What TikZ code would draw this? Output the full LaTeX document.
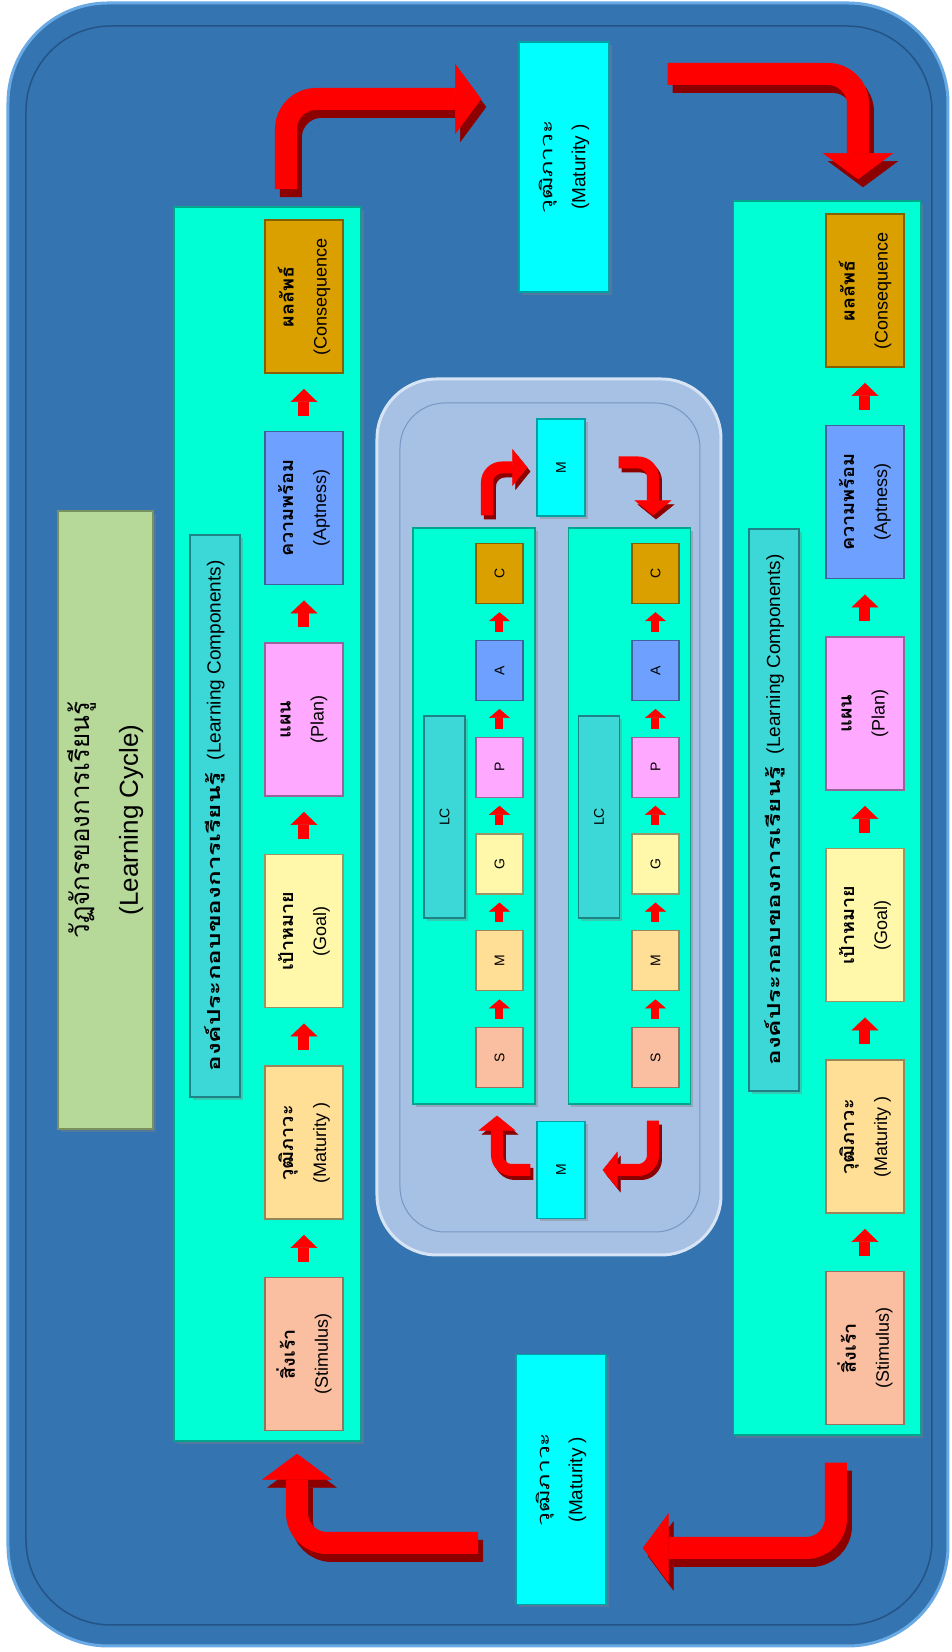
\documentclass[tikz,border=0pt]{standalone}
\usepackage{fontspec}
\setmainfont{Liberation Sans}
\newfontfamily\thaifont[Script=Thai]{Loma}
\newfontfamily\thaiwide[Script=Thai, FakeStretch=1.45]{Loma}
\newfontfamily\thaicomp[Script=Thai, FakeStretch=1.1]{Loma}
\usetikzlibrary{shapes,shadows,arrows.meta,positioning,calc}

\definecolor{bgblue}{RGB}{52,116,177}
\definecolor{rimblue}{RGB}{105,170,228}
\definecolor{lineblue}{RGB}{36,84,135}
\definecolor{paleblue}{RGB}{166,193,228}
\definecolor{palerim}{RGB}{214,228,245}
\definecolor{paleline}{RGB}{120,150,195}
\definecolor{panelgreen}{RGB}{0,255,212}
\definecolor{paneldark}{RGB}{0,165,140}
\definecolor{labelteal}{RGB}{60,215,215}
\definecolor{labeldark}{RGB}{30,130,135}
\definecolor{titlegreen}{RGB}{182,216,152}
\definecolor{titleline}{RGB}{120,145,95}
\definecolor{matcyan}{RGB}{0,255,255}
\definecolor{matdark}{RGB}{0,160,165}
\definecolor{cStim}{RGB}{250,190,160}
\definecolor{cMat}{RGB}{255,222,150}
\definecolor{cGoal}{RGB}{255,248,170}
\definecolor{cPlan}{RGB}{255,168,255}
\definecolor{cApt}{RGB}{110,160,255}
\definecolor{cCons}{RGB}{218,160,0}
\definecolor{arrowred}{RGB}{255,0,0}
\definecolor{arrowdark}{RGB}{140,0,0}

\tikzstyle{outerframe} = [rectangle, rounded corners=100pt, fill=bgblue, draw=rimblue, line width=3pt, minimum width=1643pt, minimum height=940pt]
\tikzstyle{innerframe} = [rectangle, rounded corners=85pt, fill=bgblue, draw=lineblue, line width=1.5pt, minimum width=1599pt, minimum height=906pt]
\tikzstyle{hubframe} = [rectangle, rounded corners=60pt, fill=paleblue, draw=palerim, line width=3pt, minimum width=876pt, minimum height=344pt]
\tikzstyle{hubinner} = [rectangle, rounded corners=45pt, fill=paleblue, draw=paleline, line width=1pt, minimum width=829pt, minimum height=300pt]
\tikzstyle{titlebox} = [rectangle, draw=titleline, line width=2pt, fill=titlegreen, minimum width=618pt, minimum height=95pt, align=center, font=\fontsize{26}{48}\selectfont, drop shadow={opacity=0.4}]
\tikzstyle{panel} = [rectangle, draw=paneldark, line width=1.5pt, fill=panelgreen, minimum width=1234pt, minimum height=187pt, drop shadow={opacity=0.4}]
\tikzstyle{labelbox} = [rectangle, draw=labeldark, line width=2pt, fill=labelteal, minimum width=562pt, minimum height=50pt, font=\fontsize{19}{20}\selectfont, drop shadow={opacity=0.4}]
\tikzstyle{matbox} = [rectangle, draw=matdark, line width=1.5pt, fill=matcyan, minimum width=250pt, minimum height=90pt, align=center, font=\fontsize{19}{33}\selectfont, drop shadow={opacity=0.4}]
\tikzstyle{minipanel} = [rectangle, draw=paneldark, line width=1.2pt, fill=panelgreen, minimum width=576pt, minimum height=122pt, drop shadow={opacity=0.4}]
\tikzstyle{minilabel} = [rectangle, draw=labeldark, line width=1.5pt, fill=labelteal, minimum width=202pt, minimum height=41pt, font=\fontsize{14}{16}\selectfont, drop shadow={opacity=0.4}]
\tikzstyle{mbox} = [rectangle, draw=matdark, line width=1.2pt, fill=matcyan, minimum width=97pt, minimum height=48pt, font=\fontsize{14}{16}\selectfont, drop shadow={opacity=0.4}]
\tikzset{
	comp/.style={rectangle, draw=#1!60!black, line width=1.5pt, fill=#1, minimum width=153pt, minimum height=78pt, inner sep=0pt, align=center, font=\fontsize{18}{33}\selectfont, node distance=211.5pt},
	minicomp/.style={rectangle, draw=#1!60!black, line width=1.2pt, fill=#1, minimum width=60pt, minimum height=47pt, inner sep=0pt, font=\fontsize{14}{16}\selectfont, node distance=96.8pt},
	bigarrow/.style={draw=arrowred, line width=22pt, rounded corners=30pt, -{Triangle[width=70pt,length=26pt,line width=0.5pt]}},
	bigshade/.style={bigarrow, draw=arrowdark, transform canvas={xshift=5pt, yshift=-8pt}},
	smallbent/.style={draw=arrowred, line width=12pt, rounded corners=15pt, -{Triangle[width=37pt,length=15pt,line width=0.5pt]}},
	smallshade/.style={smallbent, draw=arrowdark, transform canvas={xshift=3pt, yshift=-4pt}},
	steparrow/.style={draw=arrowred, line width=11pt, -{Triangle[width=27pt,length=13pt,line width=0.5pt]}, shorten <=15pt, shorten >=15pt},
	ministep/.style={draw=arrowred, line width=8pt, -{Triangle[width=21pt,length=9pt,line width=0.5pt]}, shorten <=8pt, shorten >=8pt}
}

\begin{document}
\begin{tikzpicture}[x=1pt, y=1pt, rotate=90, every node/.append style={transform shape}]
	\useasboundingbox (0,0) rectangle (1652,952);
	
	\node [outerframe] (frame) at (827.5,474) {};
	\node [innerframe] (inner) at (826.5,473) {};
	
	\node [titlebox] (title) at (832,846.5) {{\thaifont วัฏจักรของการเรียนรู้}\\(Learning Cycle)};
	
	% the two rows of learning components
	\node [panel] (lcTop) at (828,684.5) {};
	\node [panel] (lcBot) at (834,125) {};
	
	\node [labelbox, above of=lcTop, node distance=52.5pt, xshift=8pt] (lbTop) {{\thaiwide\bfseries\fontsize{18}{20}\selectfont องค์ประกอบของการเรียนรู้}\hspace{12pt}(Learning Components)};
	\node [labelbox, above of=lcBot, node distance=52.5pt, xshift=8pt] (lbBot) {{\thaiwide\bfseries\fontsize{18}{20}\selectfont องค์ประกอบของการเรียนรู้}\hspace{12pt}(Learning Components)};
	
	\node [comp=cStim] (s1) at ([xshift=87.5pt, yshift=-36.5pt]lcTop.west) {{\thaicomp\bfseries สิ่งเร้า}\\(Stimulus)};
	\node [comp=cMat, right of=s1] (m1) {{\thaicomp\bfseries วุฒิภาวะ}\\(Maturity )};
	\node [comp=cGoal, right of=m1] (g1) {{\thaicomp\bfseries เป้าหมาย}\\(Goal)};
	\node [comp=cPlan, right of=g1] (p1) {{\thaicomp\bfseries แผน}\\(Plan)};
	\node [comp=cApt, right of=p1] (a1) {{\thaicomp\bfseries ความพร้อม}\\(Aptness)};
	\node [comp=cCons, right of=a1] (c1) {{\thaicomp\bfseries ผลลัพธ์}\\(Consequence};
	
	\node [comp=cStim] (s2) at ([xshift=87.5pt, yshift=-38pt]lcBot.west) {{\thaicomp\bfseries สิ่งเร้า}\\(Stimulus)};
	\node [comp=cMat, right of=s2] (m2) {{\thaicomp\bfseries วุฒิภาวะ}\\(Maturity )};
	\node [comp=cGoal, right of=m2] (g2) {{\thaicomp\bfseries เป้าหมาย}\\(Goal)};
	\node [comp=cPlan, right of=g2] (p2) {{\thaicomp\bfseries แผน}\\(Plan)};
	\node [comp=cApt, right of=p2] (a2) {{\thaicomp\bfseries ความพร้อม}\\(Aptness)};
	\node [comp=cCons, right of=a2] (c2) {{\thaicomp\bfseries ผลลัพธ์}\\(Consequence};
	
	\draw [steparrow] (s1) -- (m1);
	\draw [steparrow] (m1) -- (g1);
	\draw [steparrow] (g1) -- (p1);
	\draw [steparrow] (p1) -- (a1);
	\draw [steparrow] (a1) -- (c1);
	
	\draw [steparrow] (s2) -- (m2);
	\draw [steparrow] (m2) -- (g2);
	\draw [steparrow] (g2) -- (p2);
	\draw [steparrow] (p2) -- (a2);
	\draw [steparrow] (a2) -- (c2);
	
	% maturity between the rows
	\node [matbox] (matTop) at (1485,388) {{\thaiwide\fontsize{17}{33}\selectfont วุฒิภาวะ}\\(Maturity )};
	\node [matbox] (matBot) at (172.5,391) {{\thaiwide\fontsize{17}{33}\selectfont วุฒิภาวะ}\\(Maturity )};
	
	\draw [bigshade, shorten <=17pt, shorten >=37pt] ([yshift=-18.5pt]lcTop.east) -| ([xshift=68pt]matTop.north);
	\draw [bigarrow, shorten <=17pt, shorten >=37pt] ([yshift=-18.5pt]lcTop.east) -| ([xshift=68pt]matTop.north);
	\draw [bigshade, shorten <=58pt, shorten >=21pt] ([xshift=93pt]matTop.south) |- ([yshift=-31pt]lcBot.east);
	\draw [bigarrow, shorten <=58pt, shorten >=21pt] ([xshift=93pt]matTop.south) |- ([yshift=-31pt]lcBot.east);
	\draw [bigshade, shorten <=27pt, shorten >=36pt] ([yshift=-9pt]lcBot.west) -| ([xshift=-68.5pt]matBot.south);
	\draw [bigarrow, shorten <=27pt, shorten >=36pt] ([yshift=-9pt]lcBot.west) -| ([xshift=-68.5pt]matBot.south);
	\draw [bigshade, shorten <=37pt, shorten >=12pt] ([xshift=-63.5pt]matBot.north) |- ([yshift=-29.5pt]lcTop.west);
	\draw [bigarrow, shorten <=37pt, shorten >=12pt] ([xshift=-63.5pt]matBot.north) |- ([yshift=-29.5pt]lcTop.west);
	
	% small cycle in the middle
	\node [hubframe] (hub) at (835,403) {};
	\node [hubinner] (hubIn) at (834.5,402) {};
	
	\node [minipanel] (mpTop) at (836,478) {};
	\node [minipanel] (mpBot) at (836,322.5) {};
	
	\node [minilabel, above of=mpTop, node distance=29.5pt, xshift=-1pt] (mlTop) {LC};
	\node [minilabel, above of=mpBot, node distance=30.5pt, xshift=-1pt] (mlBot) {LC};
	
	\node [minicomp=cStim] (ms1) at ([xshift=47pt, yshift=-25.5pt]mpTop.west) {S};
	\node [minicomp=cMat, right of=ms1] (mm1) {M};
	\node [minicomp=cGoal, right of=mm1] (mg1) {G};
	\node [minicomp=cPlan, right of=mg1] (mp1) {P};
	\node [minicomp=cApt, right of=mp1] (ma1) {A};
	\node [minicomp=cCons, right of=ma1] (mc1) {C};
	
	\node [minicomp=cStim] (ms2) at ([xshift=47pt, yshift=-26pt]mpBot.west) {S};
	\node [minicomp=cMat, right of=ms2] (mm2) {M};
	\node [minicomp=cGoal, right of=mm2] (mg2) {G};
	\node [minicomp=cPlan, right of=mg2] (mp2) {P};
	\node [minicomp=cApt, right of=mp2] (ma2) {A};
	\node [minicomp=cCons, right of=ma2] (mc2) {C};
	
	\draw [ministep] (ms1) -- (mm1);
	\draw [ministep] (mm1) -- (mg1);
	\draw [ministep] (mg1) -- (mp1);
	\draw [ministep] (mp1) -- (ma1);
	\draw [ministep] (ma1) -- (mc1);
	
	\draw [ministep] (ms2) -- (mm2);
	\draw [ministep] (mm2) -- (mg2);
	\draw [ministep] (mg2) -- (mp2);
	\draw [ministep] (mp2) -- (ma2);
	\draw [ministep] (ma2) -- (mc2);
	
	\node [mbox] (mTop) at (1184.5,391) {M};
	\node [mbox] (mBot) at (482,391) {M};
	
	\draw [smallshade, shorten <=12pt, shorten >=9pt] ([yshift=-13pt]mpTop.east) -| (mTop.north);
	\draw [smallbent, shorten <=12pt, shorten >=9pt] ([yshift=-13pt]mpTop.east) -| (mTop.north);
	\draw [smallshade, shorten <=33pt, shorten >=12pt] ([xshift=5pt]mTop.south) |- ([yshift=-23.5pt]mpBot.east);
	\draw [smallbent, shorten <=33pt, shorten >=12pt] ([xshift=5pt]mTop.south) |- ([yshift=-23.5pt]mpBot.east);
	\draw [smallshade, shorten <=16pt, shorten >=17pt] ([yshift=-23.5pt]mpBot.west) -| (mBot.south);
	\draw [smallbent, shorten <=16pt, shorten >=17pt] ([yshift=-23.5pt]mpBot.west) -| (mBot.south);
	\draw [smallshade, shorten <=6pt, shorten >=11pt] (mBot.north) |- ([yshift=-23pt]mpTop.west);
	\draw [smallbent, shorten <=6pt, shorten >=11pt] (mBot.north) |- ([yshift=-23pt]mpTop.west);
	
\end{tikzpicture}
\end{document}
